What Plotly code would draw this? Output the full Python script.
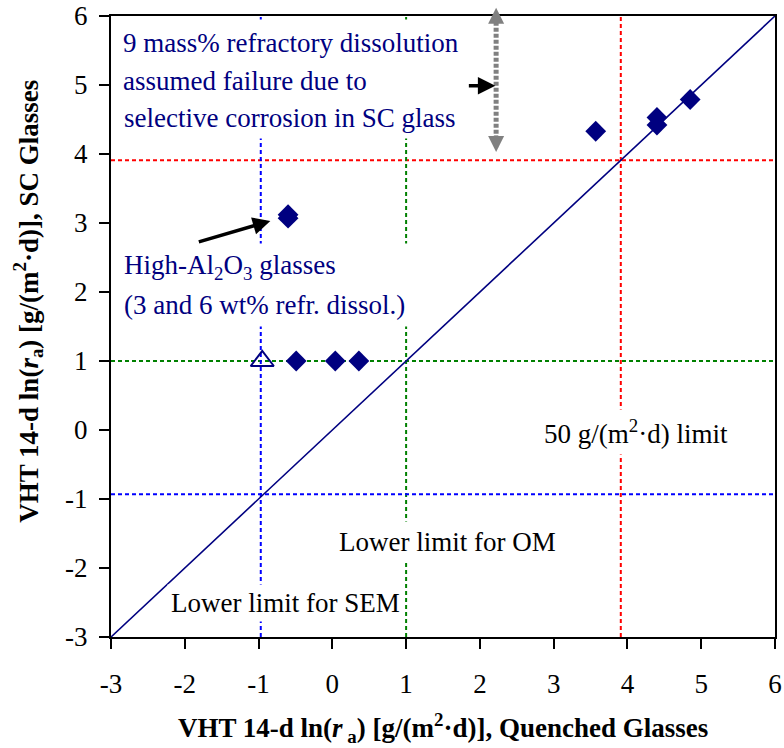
import plotly.graph_objects as go

# ---------------- data ----------------
quenched_x = [-0.49, 0.04, 0.36, -0.60, -0.60, 3.57, 4.40, 4.40, 4.85]
sc_y = [1.00, 1.00, 1.00, 3.12, 3.07, 4.33, 4.53, 4.42, 4.79]
open_x = [-0.95]
open_y = [1.00]
diag_x = [-3, 6]
diag_y = [-3, 6]
tick_vals = [-3, -2, -1, 0, 1, 2, 3, 4, 5, 6]
tick_text = ["-3", "-2", "-1", "0", "1", "2", "3", "4", "5", "6"]
sem_limit_x = -0.97
sem_limit_y = -0.93
om_limit = 1.0
rate_limit = 3.91
gray_arrow_x = [2.22, 2.22]
gray_arrow_y = [4.12, 6.02]
gray_top_tip = 6.12
gray_bottom_tip = 4.03
al_arrow_tail = [-1.83, 2.72]
al_arrow_head = [-0.84, 3.03]
sc_arrow_tail = [1.83, 4.99]
sc_arrow_head = [2.21, 4.99]

NAVY = "#000080"
GRAY = "#808080"
SERIF = "Liberation Serif, Times New Roman, serif"
Y_MIN, Y_MAX = -3, 6

fig = go.Figure()

# reference limit lines
def hline(y, color):
    fig.add_shape(type="line", xref="paper", x0=0, x1=1, yref="y", y0=y, y1=y,
                  line=dict(color=color, width=2, dash="4px,3px"), layer="below")

def vline(x, color):
    fig.add_shape(type="line", yref="paper", y0=0, y1=1, xref="x", x0=x, x1=x,
                  line=dict(color=color, width=2, dash="4px,3px"), layer="below")

hline(rate_limit, "#FF0000")
vline(rate_limit, "#FF0000")
hline(om_limit, "#008000")
vline(om_limit, "#008000")
hline(sem_limit_y, "#0000FF")
vline(sem_limit_x, "#0000FF")

# diagonal
fig.add_trace(go.Scatter(x=diag_x, y=diag_y, mode="lines",
                         line=dict(color=NAVY, width=1.6), showlegend=False, hoverinfo="skip"))

# data
fig.add_trace(go.Scatter(x=quenched_x, y=sc_y, mode="markers",
                         marker=dict(symbol="diamond", size=16, color=NAVY, line=dict(width=0)),
                         showlegend=False))
fig.add_trace(go.Scatter(x=open_x, y=open_y, mode="markers",
                         marker=dict(symbol="triangle-up-open", size=20, color=NAVY, line=dict(width=2)),
                         showlegend=False))

# text annotations
def label(x, y, text, color, width=None, pad=4):
    fig.add_annotation(x=x, y=y, xref="x", yref="y", text=text, showarrow=False,
                       xanchor="left", yanchor="middle", align="left", width=width,
                       font=dict(family=SERIF, size=27, color=color),
                       bgcolor="white", borderpad=pad)

label(-2.96, 5.605, "9 mass% refractory dissolution", NAVY, width=350, pad=8)
label(-2.91, 5.054, "assumed failure due to", NAVY, width=350, pad=4)
label(-2.91, 4.519, "selective corrosion in SC glass", NAVY, width=350, pad=5)
label(-2.92, 2.36, "High-Al<sub>2</sub>O<sub>3</sub> glasses", NAVY, width=300, pad=6)
label(-2.92, 1.81, "(3 and 6 wt% refr. dissol.)", NAVY, width=300, pad=6)
label(2.79, -0.03, "50 g/(m<sup>2</sup>·d) limit", "black", pad=5)
label(0.01, -1.62, "Lower limit for OM", "black", pad=5)
label(-2.24, -2.51, "Lower limit for SEM", "black", pad=3)

# gray dotted double arrow
fig.add_trace(go.Scatter(x=gray_arrow_x, y=gray_arrow_y, mode="lines",
                         line=dict(color=GRAY, width=5, dash="4px,2px"),
                         showlegend=False, cliponaxis=False, hoverinfo="skip"))
# heads (top one lies above the axis range, so positioned in paper units)
fig.add_annotation(x=gray_arrow_x[0], xref="x",
                   y=(gray_top_tip - Y_MIN) / (Y_MAX - Y_MIN), yref="paper",
                   ax=0, ay=18, axref="pixel", ayref="pixel", text="",
                   showarrow=True, arrowhead=2, arrowsize=0.8, arrowwidth=4, arrowcolor=GRAY)
fig.add_annotation(x=gray_arrow_x[0], xref="x", y=gray_bottom_tip, yref="y",
                   ax=0, ay=-18, axref="pixel", ayref="pixel", text="",
                   showarrow=True, arrowhead=2, arrowsize=0.8, arrowwidth=4, arrowcolor=GRAY)

# black arrows
for tail, head in [(al_arrow_tail, al_arrow_head), (sc_arrow_tail, sc_arrow_head)]:
    fig.add_annotation(x=head[0], y=head[1], ax=tail[0], ay=tail[1],
                       xref="x", yref="y", axref="x", ayref="y", text="",
                       showarrow=True, arrowhead=2, arrowsize=1, arrowwidth=3.5,
                       arrowcolor="black")

# axis titles as annotations
fig.add_annotation(xref="paper", yref="paper", x=-0.125, y=0.54, textangle=-90,
                   text="<b>VHT 14-d ln(<i>r</i><sub>a</sub>) [g/(m<sup>2</sup>·d)], SC Glasses</b>",
                   showarrow=False, xanchor="center", yanchor="middle",
                   font=dict(family=SERIF, size=27, color="black"))
fig.add_annotation(xref="paper", yref="paper", x=0.5, y=-0.146,
                   text="<b>VHT 14-d ln(<i>r</i><sub> a</sub>) [g/(m<sup>2</sup>·d)], Quenched Glasses</b>",
                   showarrow=False, xanchor="center", yanchor="middle",
                   font=dict(family=SERIF, size=27, color="black"))

axis_common = dict(range=[Y_MIN, Y_MAX], tickvals=tick_vals, ticktext=tick_text,
                   ticks="outside", ticklen=10, automargin=False,
                   tickwidth=1.5, tickcolor="black", showline=True, linecolor="black",
                   linewidth=2, mirror=True, showgrid=False, zeroline=False,
                   tickfont=dict(family=SERIF, size=27, color="black"))

fig.update_layout(
    width=784, height=748,
    margin=dict(l=111, r=9, t=16, b=111),
    plot_bgcolor="white", paper_bgcolor="white",
    xaxis=dict(**axis_common, ticklabelstandoff=12),
    yaxis=dict(**axis_common, ticklabelstandoff=6),
    showlegend=False,
)

fig.write_html("out.html", config={"displayModeBar": False},
               post_script="document.body.style.margin='0px';")
